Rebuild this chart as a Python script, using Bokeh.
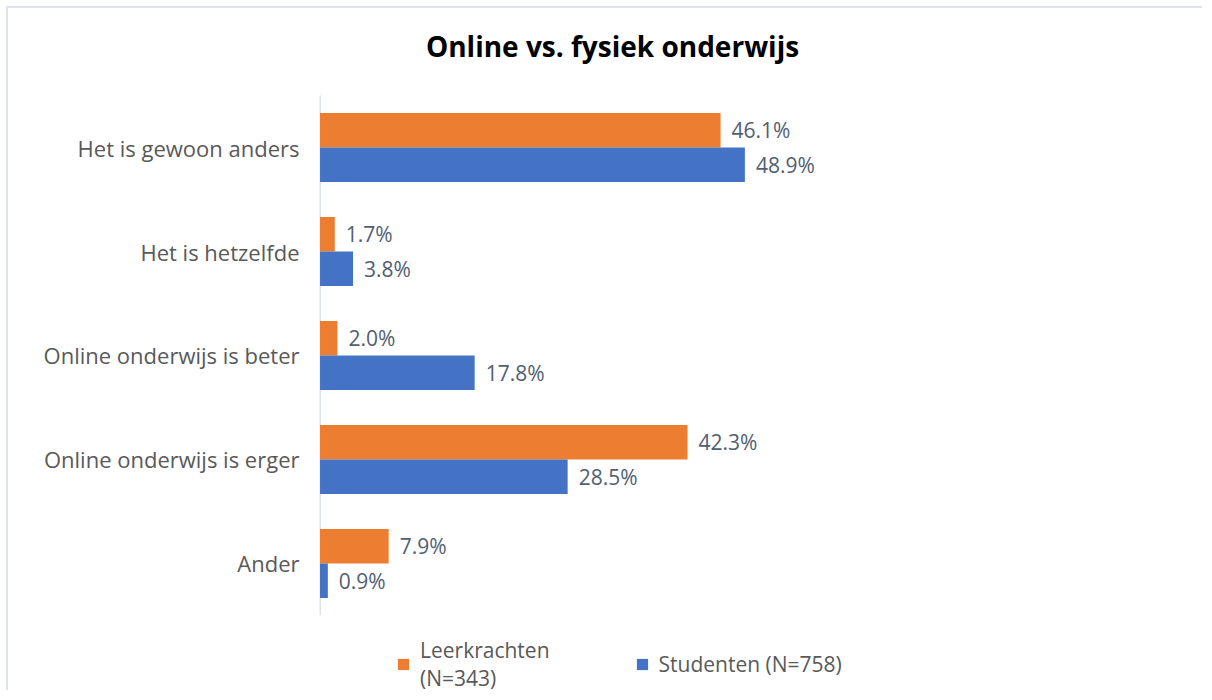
from bokeh.plotting import figure
from bokeh.models import ColumnDataSource, Legend, LegendItem, Range1d, FixedTicker, Label
from bokeh.transform import dodge
from bokeh.embed import file_html
from bokeh.resources import INLINE
from bokeh.core.properties import value

categories = ["Het is gewoon anders", "Het is hetzelfde", "Online onderwijs is beter",
              "Online onderwijs is erger", "Ander"]
leerkrachten = [46.1, 1.7, 2.0, 42.3, 7.9]
studenten = [48.9, 3.8, 17.8, 28.5, 0.9]
series_names = ["Leerkrachten\n(N=343)", "Studenten (N=758)"]
title_text = "Online vs. fysiek onderwijs"

FONT = "Open Sans"
ORANGE = "#ED7D31"
BLUE = "#4472C4"

n = len(categories)
ypos = [n - 1 - i for i in range(n)]  # top category highest

src = ColumnDataSource(dict(
    y=ypos,
    cat=categories,
    lk=leerkrachten,
    st=studenten,
    lk_lbl=[f"{v:.1f}%" for v in leerkrachten],
    st_lbl=[f"{v:.1f}%" for v in studenten],
))

W, H = 1196, 684
p = figure(width=W, height=H, output_backend="svg", toolbar_location=None,
           y_range=Range1d(-1.242, n - 0.5 + 0.838),
           x_range=Range1d(-0.06, 101.8),
           min_border_left=311, min_border_right=0, min_border_top=0, min_border_bottom=0)
p.title = None
p.styles = {"border-top": "2px solid #dfe4ec", "border-left": "2px solid #dfe4ec",
            "margin-left": "6px", "margin-top": "6px", "box-sizing": "border-box"}

p.outline_line_color = None
p.xgrid.grid_line_color = None
p.ygrid.grid_line_color = None
p.xaxis.visible = False

ax = p.yaxis[0]
ax.ticker = FixedTicker(ticks=ypos)
ax.major_label_overrides = {y: c for y, c in zip(ypos, categories)}
ax.axis_line_color = None
ax.major_tick_line_color = None
ax.minor_tick_line_color = None
ax.major_label_text_font = FONT
ax.major_label_text_font_size = "22px"
ax.major_label_text_color = "#595959"
ax.major_label_standoff = 14

# vertical category axis line, spanning the category band only
p.segment(x0=[0], y0=[-0.5], x1=[0], y1=[n - 0.5], line_color="#dde2ea", line_width=2)

bh = 0.332
r_lk = p.hbar(y=dodge("y", 0.166), right="lk", left=0, height=bh,
              source=src, fill_color=ORANGE, line_color=None)
r_st = p.hbar(y=dodge("y", -0.166), right="st", left=0, height=bh,
              source=src, fill_color=BLUE, line_color=None)

for col, lbl, off in (("lk", "lk_lbl", 0.166), ("st", "st_lbl", -0.166)):
    p.text(x=col, y=dodge("y", off), text=lbl, source=src,
           x_offset=11, text_baseline="middle", text_align="left",
           text_font=value(FONT), text_font_size="21px", text_color="#525e72")

title = Label(x=293, y=647, x_units="screen", y_units="screen", text=title_text,
              text_align="center", text_baseline="middle", text_font=FONT,
              text_font_size="28px", text_font_style="bold", text_color="#000000")
p.add_layout(title)

legend = Legend(items=[LegendItem(label=series_names[0], renderers=[r_lk]),
                       LegendItem(label=series_names[1], renderers=[r_st])],
                orientation="horizontal", location=(77, 0),
                label_text_font=FONT, label_text_font_size="21px",
                label_text_color="#595959", glyph_width=14, glyph_height=14,
                spacing=85, label_standoff=10, border_line_color=None,
                background_fill_alpha=0, padding=0, margin=0)
p.add_layout(legend, "center")

open("out.html", "w").write(file_html(p, INLINE))
